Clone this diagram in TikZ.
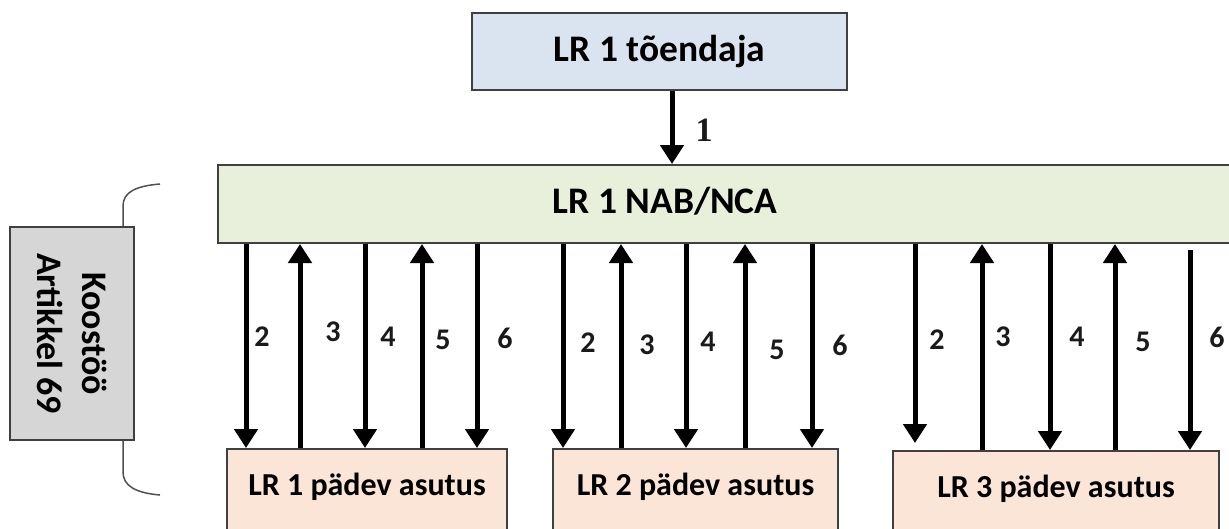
\documentclass[tikz,border=0pt]{standalone}
\usepackage{fontspec}
\setmainfont{Carlito}
\newfontfamily\numserif{Liberation Serif}
\usetikzlibrary{arrows.meta}
\definecolor{bordergray}{HTML}{404040}
\definecolor{bluefill}{HTML}{DAE3F0}
\definecolor{greenfill}{HTML}{E8F0DC}
\definecolor{peachfill}{HTML}{FBE5D6}
\definecolor{grayfill}{HTML}{D6D6D6}
\definecolor{bracecol}{HTML}{505050}
\definecolor{numcol}{HTML}{1A1A1A}
\begin{document}
\begin{tikzpicture}[x=1pt,y=-1pt,
  box/.style={draw=bordergray, line width=2pt, inner sep=0pt},
  arr/.style={line width=5pt, -{Triangle[width=23pt,length=19pt]}},
  num/.style={font=\fontsize{30}{30}\selectfont\bfseries, text=numcol, inner sep=0pt},
  bigtext/.style={font=\fontsize{37.5}{37.5}\selectfont\bfseries},
  unittext/.style={font=\fontsize{32}{32}\selectfont\bfseries}]
\useasboundingbox (0,0) rectangle (1229,528);
\clip (0,0) rectangle (1229,528);
% boxes
\node[box, fill=bluefill, minimum width=375, minimum height=77, bigtext] (top) at (659.5,51.5) {LR 1 tõendaja};
\node[box, fill=greenfill, minimum width=1100, minimum height=78, anchor=north west] (nca) at (217,164) {};
\node[bigtext, inner sep=0pt] (ncatext) at (665,201) {LR 1 NAB/NCA};
\node[box, fill=peachfill, anchor=north, minimum width=280, text height=46pt, text depth=60pt, unittext] (b1) at (367,448) {LR 1 pädev asutus};
\node[box, fill=peachfill, anchor=north, minimum width=285, text height=46pt, text depth=60pt, unittext] (b2) at (695.5,448) {LR 2 pädev asutus};
\node[box, fill=peachfill, anchor=north, minimum width=326, text height=46pt, text depth=60pt, unittext] (b3) at (1056,450) {LR 3 pädev asutus};
% arrow 1
\draw[arr] (top.south -| 672,0) -- (nca.north -| 672,0);
\node[font=\fontsize{34}{34}\selectfont\numserif\bfseries, text=numcol, inner sep=0pt] (n1) at (704,130) {1};
% arrows
\foreach \b/\xs in {b1/{246,300,365,422,477}, b2/{563,621,686,745,812}}{
  \foreach \x [count=\i] in \xs {
    \coordinate (\b c\i) at (\x,0);
    \ifodd\i
      \draw[arr] (nca.south -| \b c\i) -- (\b.north -| \b c\i);
    \else
      \draw[arr] (\b.north -| \b c\i) -- (nca.south -| \b c\i);
    \fi
  }
}
\coordinate (b3c1) at (915,0);
\coordinate (b3c2) at (982,0);
\coordinate (b3c3) at (1050,0);
\coordinate (b3c4) at (1115,0);
\coordinate (b3c5) at (1190,0);
\draw[arr, shorten >=7pt] (nca.south -| b3c1) -- (b3.north -| b3c1);
\draw[arr] (b3.north -| b3c2) -- (nca.south -| b3c2);
\draw[arr] (nca.south -| b3c3) -- (b3.north -| b3c3);
\draw[arr] (b3.north -| b3c4) -- (nca.south -| b3c4);
\draw[arr, shorten <=6pt] (nca.south -| b3c5) -- (b3.north -| b3c5);
% labels
\foreach \x/\y/\t [count=\k] in {262/337/2, 333/332/3, 388/337/4, 443/340/5, 505/338/6,
  588/343/2, 647/345/3, 708/342/4, 777/350/5, 840/345/6,
  937/340/2, 1003/337/3, 1077/337/4, 1143/342/5, 1217/337/6}{
  \node[num] (lab\k) at (\x,\y) {\t};
}
% brace and cooperation box
\draw[bracecol, line width=1.5pt] (160,184) .. controls (136,186) and (123,192) .. (123,206) -- (123,472) .. controls (123,486) and (136,493) .. (160,495);
\node[box, fill=grayfill, rotate=-90, minimum width=213, minimum height=124, align=center, font=\fontsize{36}{45}\selectfont\bfseries] (koos) at (72,333.5) {Koostöö\\Artikkel 69};
\end{tikzpicture}
\end{document}
